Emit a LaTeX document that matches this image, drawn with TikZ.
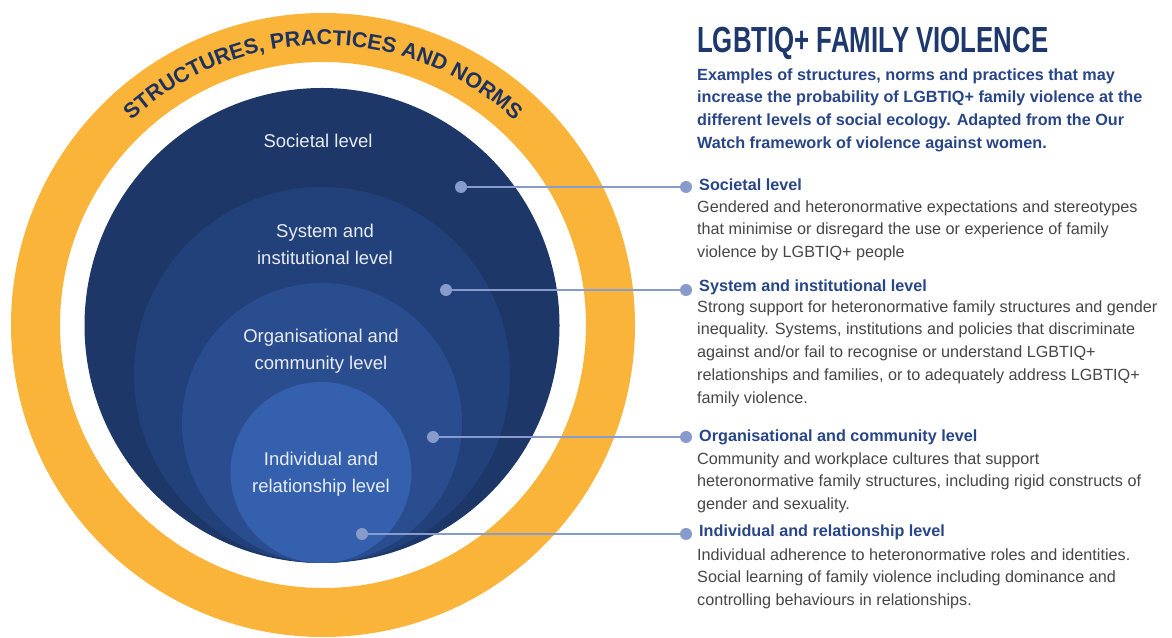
\documentclass[tikz,border=0pt]{standalone}
\usepackage{fontspec}
\setmainfont{Liberation Sans}
\usetikzlibrary{decorations.text}
\definecolor{ringorange}{RGB}{251,180,58}
\definecolor{navyA}{RGB}{29,55,104}
\definecolor{navyB}{RGB}{34,64,122}
\definecolor{navyC}{RGB}{42,77,143}
\definecolor{navyD}{RGB}{52,96,174}
\definecolor{dotblue}{RGB}{135,155,205}
\definecolor{ringtext}{RGB}{30,50,95}
\definecolor{titleblue}{RGB}{30,56,110}
\definecolor{headblue}{RGB}{40,70,135}
\definecolor{bodygray}{RGB}{70,70,70}
\definecolor{circtextcol}{RGB}{232,236,244}
\tikzset{
  circtext/.style={text=circtextcol, align=center, inner sep=0pt, font=\fontsize{18.5}{27}\selectfont},
  headtxt/.style={text=headblue, inner sep=0pt, anchor=base west, font=\bfseries\fontsize{16.2}{22.75}\selectfont},
  bodytxt/.style={text=bodygray, inner sep=0pt, anchor=north west, align=left, font=\fontsize{16.2}{22.75}\selectfont},
  subtxt/.style={text=headblue, inner sep=0pt, anchor=north west, align=left, font=\bfseries\fontsize{16.2}{22.7}\selectfont},
  dotnode/.style={circle, fill=dotblue, minimum size=12pt, inner sep=0pt},
  conn/.style={draw=dotblue, line width=2.8pt}
}
\begin{document}
\begin{tikzpicture}[x=1pt,y=1pt]
\useasboundingbox (0,0) rectangle (1172,637);
\fill[white] (0,0) rectangle (1172,637);
% orange ring
\fill[ringorange, even odd rule] (323,312) circle[radius=312] (323,312) circle[radius=263];
% nested circles
\fill[navyA] (322,311.5) circle[radius=237.5];
\fill[navyB] (322,262) circle[radius=188];
\fill[navyC] (322,214) circle[radius=140];
\fill[navyD] (321,164.5) circle[radius=90.5];
% curved text
\path[decorate, decoration={text along path, text align=center, text color=ringtext,
  text={|\bfseries\fontsize{21.5}{21.5}\selectfont|STRUCTURES, PRACTICES AND NORMS}}]
  (323,312) ++(170:280) arc[start angle=170, end angle=10, radius=280];
% circle labels
\node[circtext, anchor=base] (lsoc) at (318,489) {Societal level};
\node[circtext, anchor=north] (lsys) at (325,412.9) {System and\\institutional level};
\node[circtext, anchor=north] (lorg) at (321,308.1) {Organisational and\\community level};
\node[circtext, anchor=north] (lind) at (321,185.5) {Individual and\\relationship level};
% title
\node[anchor=base west, inner sep=0pt, text=titleblue] (title) at (697,584)
  {\scalebox{0.711}[1]{\bfseries\fontsize{36.3}{36.3}\selectfont LGBTIQ+ FAMILY VIOLENCE}};
\node[subtxt] (sub) at (697,568.9) {Examples of structures, norms and practices that may\\increase the probability of LGBTIQ+ family violence at the\\different levels of social ecology. Adapted from the Our\\Watch framework of violence against women.};
% dots and connectors
\node[dotnode] (d1i) at (461,450) {};
\node[dotnode] (d1o) at (686,450) {};
\node[dotnode] (d2i) at (446,347) {};
\node[dotnode] (d2o) at (686,347) {};
\node[dotnode] (d3i) at (433,200) {};
\node[dotnode] (d3o) at (686,200) {};
\node[dotnode] (d4i) at (362,103) {};
\node[dotnode] (d4o) at (686,103) {};
\draw[conn] (d1i) -- (d1o);
\draw[conn] (d2i) -- (d2o);
\draw[conn] (d3i) -- (d3o);
\draw[conn] (d4i) -- (d4o);
% right texts
\node[headtxt] (h1) at (699,446) {Societal level};
\node[bodytxt] (b1) at (697,436.7) {Gendered and heteronormative expectations and stereotypes\\that minimise or disregard the use or experience of family\\violence by LGBTIQ+ people};
\node[headtxt] (h2) at (699,345.5) {System and institutional level};
\node[bodytxt] (b2) at (697,336.7) {Strong support for heteronormative family structures and gender\\inequality. Systems, institutions and policies that discriminate\\against and/or fail to recognise or understand LGBTIQ+\\relationships and families, or to adequately address LGBTIQ+\\family violence.};
\node[headtxt] (h3) at (699,195.3) {Organisational and community level};
\node[bodytxt] (b3) at (697,184.7) {Community and workplace cultures that support\\heteronormative family structures, including rigid constructs of\\gender and sexuality.};
\node[headtxt] (h4) at (699,100.3) {Individual and relationship level};
\node[bodytxt] (b4) at (697,88.7) {Individual adherence to heteronormative roles and identities.\\Social learning of family violence including dominance and\\controlling behaviours in relationships.};
\end{tikzpicture}
\end{document}
